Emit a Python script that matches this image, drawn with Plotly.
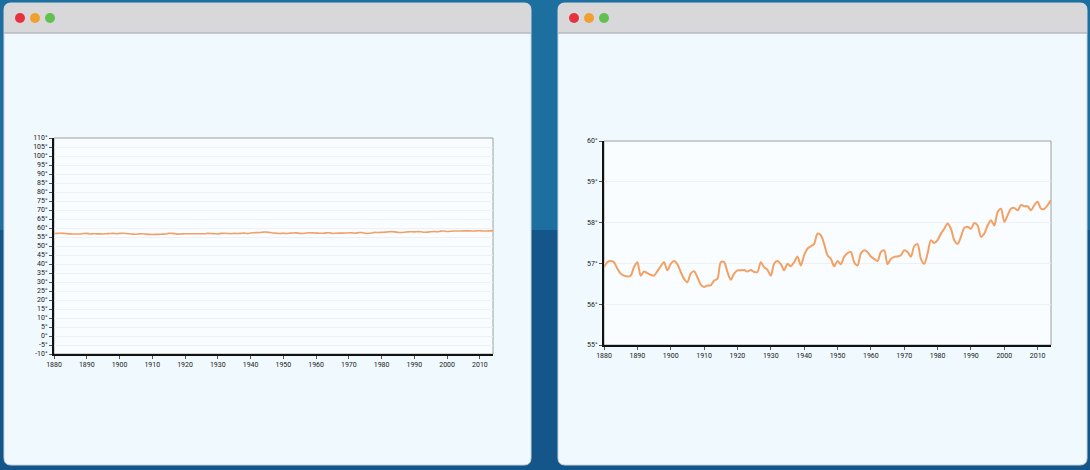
import plotly.graph_objects as go

# ---- data ----
years = list(range(1880, 2015))
temps = [
    56.91, 57.03, 57.06, 57.03, 56.87, 56.75, 56.70, 56.68, 56.70, 56.91,
    57.03, 56.70, 56.80, 56.76, 56.72, 56.70, 56.81, 56.93, 57.03, 56.83,
    56.99, 57.06, 56.98, 56.79, 56.62, 56.54, 56.75, 56.81, 56.66, 56.48,
    56.42, 56.46, 56.46, 56.58, 56.62, 57.03, 57.03, 56.79, 56.60, 56.75,
    56.83, 56.83, 56.84, 56.80, 56.84, 56.79, 56.79, 57.03, 56.91, 56.84,
    56.70, 56.99, 57.06, 56.98, 56.83, 56.99, 56.93, 57.03, 57.17, 56.95,
    57.20, 57.36, 57.42, 57.48, 57.73, 57.69, 57.48, 57.20, 57.11, 56.93,
    57.06, 56.98, 57.16, 57.25, 57.28, 57.03, 56.95, 57.24, 57.32, 57.28,
    57.17, 57.11, 57.06, 57.28, 57.32, 56.98, 57.11, 57.16, 57.17, 57.20,
    57.32, 57.28, 57.16, 57.42, 57.47, 57.11, 56.99, 57.24, 57.57, 57.50,
    57.57, 57.73, 57.85, 57.98, 57.85, 57.57, 57.48, 57.65, 57.87, 57.90,
    57.85, 57.99, 57.93, 57.65, 57.73, 57.93, 58.06, 57.93, 58.26, 58.34,
    58.02, 58.18, 58.34, 58.36, 58.30, 58.43, 58.40, 58.40, 58.30, 58.43,
    58.51, 58.34, 58.34, 58.43, 58.55,
]
x_ticks = list(range(1880, 2011, 10))
left_y_ticks = list(range(-10, 111, 5))
left_y_labels = [f"{v}°" for v in left_y_ticks]
right_y_ticks = list(range(55, 61, 1))
right_y_labels = [f"{v}°" for v in right_y_ticks]

# ---- geometry helpers (pixels -> paper) ----
W, H = 1090, 470
def px(x): return x / W
def py(y): return 1 - y / H

LINE_COLOR = "#f2a064"

fig = go.Figure()

for xa, ya, lw in (("x", "y", 1.6), ("x2", "y2", 2.0)):
    fig.add_trace(go.Scatter(
        x=years, y=temps, mode="lines", xaxis=xa, yaxis=ya,
        line=dict(color=LINE_COLOR, width=lw, shape="spline", smoothing=0.8),
        hoverinfo="skip", showlegend=False,
    ))

def rounded_path(x0, y0, x1, y1, r, top_only=False):
    rx, ry = r / W, r / H
    X0, X1 = px(x0), px(x1)
    Y0, Y1 = py(y0), py(y1)
    p = f"M {X0+rx},{Y0} L {X1-rx},{Y0} Q {X1},{Y0} {X1},{Y0-ry} "
    if top_only:
        p += f"L {X1},{Y1} L {X0},{Y1} "
    else:
        p += f"L {X1},{Y1+ry} Q {X1},{Y1} {X1-rx},{Y1} L {X0+rx},{Y1} Q {X0},{Y1} {X0},{Y1+ry} "
    p += f"L {X0},{Y0-ry} Q {X0},{Y0} {X0+rx},{Y0} Z"
    return p

shapes = []
shapes.append(dict(type="rect", xref="paper", yref="paper", x0=0, x1=1, y0=py(230), y1=1,
                   fillcolor="#1c6f9f", line_width=0, layer="below"))
shapes.append(dict(type="rect", xref="paper", yref="paper", x0=0, x1=1, y0=0, y1=py(230),
                   fillcolor="#15568a", line_width=0, layer="below"))

windows = [(4, 3, 531, 465), (558, 3, 1087, 465)]
for (x0, y0, x1, y1) in windows:
    shapes.append(dict(type="path", xref="paper", yref="paper",
                       path=rounded_path(x0, y0, x1, y1, 7),
                       fillcolor="#f0f9fd", line=dict(color="#c9d4dc", width=1), layer="below"))
    shapes.append(dict(type="path", xref="paper", yref="paper",
                       path=rounded_path(x0, y0, x1, 33, 7, top_only=True),
                       fillcolor="#d8d7da", line_width=0, layer="below"))
    shapes.append(dict(type="line", xref="paper", yref="paper", x0=px(x0), x1=px(x1),
                       y0=py(33), y1=py(33), line=dict(color="#b9b9bd", width=1.5), layer="below"))
    for i, col in enumerate(["#e8313f", "#f0a030", "#62c04f"]):
        cx, cy, r = x0 + 16 + 15 * i, 18, 5
        shapes.append(dict(type="circle", xref="paper", yref="paper",
                           x0=px(cx - r), x1=px(cx + r), y0=py(cy + r), y1=py(cy - r),
                           fillcolor=col, line_width=0, layer="below"))

plots = [(54, 138, 493, 354), (604, 141, 1051, 345)]
for (x0, y0, x1, y1) in plots:
    shapes.append(dict(type="rect", xref="paper", yref="paper",
                       x0=px(x0), x1=px(x1), y0=py(y1), y1=py(y0),
                       fillcolor="#fafdff", line=dict(color="#9aa0a4", width=1), layer="below"))

tickfont = dict(family="Roboto, Arial, sans-serif", size=7, color="#1a1a1a")
common_x = dict(range=[1880, 2014], tickmode="array", tickvals=x_ticks,
                showgrid=False, showline=True, linecolor="#111", linewidth=2,
                ticks="outside", ticklen=3, tickcolor="#555", tickfont=tickfont,
                zeroline=False, fixedrange=True, automargin=False)
common_y = dict(tickmode="array", showgrid=True, gridcolor="#edf1f4",
                gridwidth=1, showline=True, linecolor="#111", linewidth=2,
                ticks="outside", ticklen=3, tickcolor="#555", tickfont=tickfont,
                zeroline=False, fixedrange=True, automargin=False)

fig.update_layout(
    width=W, height=H, margin=dict(l=0, r=0, t=0, b=0, pad=0, autoexpand=False),
    paper_bgcolor="#15568a", plot_bgcolor="rgba(0,0,0,0)",
    shapes=shapes, showlegend=False,
    xaxis=dict(common_x, domain=[px(54), px(493)], anchor="y"),
    yaxis=dict(common_y, domain=[py(354), py(138)], range=[-10, 110],
               tickvals=left_y_ticks, ticktext=left_y_labels, anchor="x"),
    xaxis2=dict(common_x, domain=[px(604), px(1051)], anchor="y2"),
    yaxis2=dict(common_y, domain=[py(345), py(141)], range=[55, 60],
                tickvals=right_y_ticks, ticktext=right_y_labels, anchor="x2"),
)

fig.write_html(
    "out.html",
    config={"displayModeBar": False},
    post_script="document.body.style.margin='0';document.body.style.overflow='hidden';document.body.style.background='#15568a';",
)
